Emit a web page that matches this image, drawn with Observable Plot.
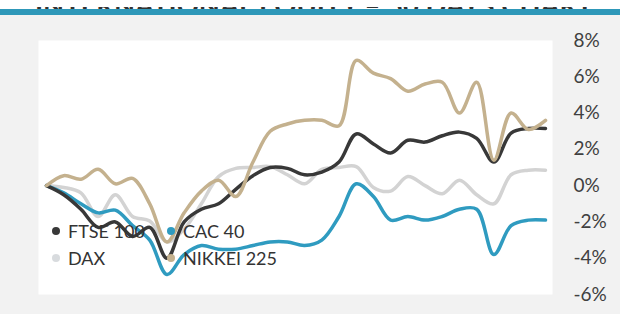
<!DOCTYPE html>
<html>
<head>
<meta charset="utf-8">
<script src="https://cdn.jsdelivr.net/npm/d3@7"></script>
<script src="https://cdn.jsdelivr.net/npm/@observablehq/plot@0.6"></script>
<style>
  html, body { margin: 0; padding: 0; }
  body { width: 620px; height: 314px; overflow: hidden; background: #f2f2f2; font-family: Lato, "Open Sans", sans-serif; }
  #head { height: 9px; background: #fff; overflow: hidden; }
  #bar { height: 6px; background: #2e98b9; border-bottom: 0; }
  #chart { position: relative; width: 620px; height: 299px; }
  #legend { position: absolute; left: 0; top: 0; font-size: 18px; color: #333; }
  .item { position: absolute; display: flex; align-items: center; white-space: nowrap; line-height: 1; }
  .dot { width: 8px; height: 8px; border-radius: 50%; margin-right: 8px; }
</style>
</head>
<body>
<div id="head">
  <svg width="620" height="9"><text x="35" y="7.5" textLength="558" lengthAdjust="spacingAndGlyphs" font-family="Lato, sans-serif" font-weight="bold" font-size="26" fill="#333">INTERNATIONAL EQUITY – 30 DAYS CHART</text></svg>
</div>
<div id="bar"></div>
<div id="chart"><div id="legend"></div></div>
<script>
// ---- data ----
const seriesNames = ["FTSE 100", "CAC 40", "DAX", "NIKKEI 225"];
const seriesColors = ["#383838", "#2f9bc0", "#d3d3d3", "#c4b18e"];
const legendDotColors = ["#383838", "#2f9bc0", "#d8dbde", "#c4b18e"];
const ftse   = [0, -0.5, -1.3, -2.3, -2.0, -2.8, -2.3, -4.0, -2.0, -1.3, -1.0, -0.2, 0.55, 1.0, 0.95, 0.6, 0.75, 1.3, 2.85, 2.3, 1.8, 2.5, 2.4, 2.75, 2.95, 2.6, 1.3, 2.9, 3.15, 3.15];
const cac    = [0, -0.4, -1.0, -1.5, -1.35, -2.2, -3.0, -4.9, -3.8, -3.3, -3.5, -3.5, -3.3, -3.1, -3.1, -3.3, -3.0, -1.7, 0.1, -0.6, -1.9, -1.7, -1.9, -1.7, -1.3, -1.3, -3.8, -2.2, -1.9, -1.9];
const dax    = [0, -0.1, -0.4, -1.7, -0.5, -1.7, -1.95, -3.1, -2.4, -1.0, 0.5, 0.95, 1.0, 1.05, 0.6, 0.1, 0.9, 1.0, 1.05, -0.1, -0.3, 0.5, 0.0, -0.45, 0.3, -0.5, -1.0, 0.6, 0.85, 0.85];
const nikkei = [0, 0.55, 0.35, 0.9, 0.1, 0.4, -1.0, -3.1, -1.5, -0.3, 0.3, -0.6, 1.3, 3.0, 3.4, 3.6, 3.6, 3.3, 6.9, 6.2, 5.9, 5.2, 5.6, 5.7, 4.0, 5.7, 1.4, 4.0, 3.1, 3.6];
const yTicks = [-6, -4, -2, 0, 2, 4, 6, 8];

const seriesValues = [ftse, cac, dax, nikkei];
// draw order: DAX, CAC, FTSE, NIKKEI (last on top)
const drawOrder = [2, 1, 0, 3];
const rows = [];
for (const s of drawOrder) {
  seriesValues[s].forEach((v, i) => rows.push({series: seriesNames[s], day: i, value: v}));
}

const plot = Plot.plot({
  width: 620,
  height: 299,
  marginTop: 25,
  marginBottom: 20,
  marginLeft: 38,
  marginRight: 68,
  style: {background: "#f2f2f2", fontFamily: "Lato, sans-serif"},
  x: {domain: [0, 29], axis: null, insetLeft: 8, insetRight: 7},
  y: {domain: [-6, 8], label: null},
  color: {domain: seriesNames, range: seriesColors},
  marks: [
    Plot.frame({fill: "white", stroke: null}),
    Plot.axisY(yTicks, {anchor: "right", label: null, tickSize: 0, tickPadding: 21, textAnchor: "start",
      tickFormat: d => d + "%", fontSize: 19, fill: "#404040"}),
    Plot.line(rows, {x: "day", y: "value", z: "series", stroke: "series",
      strokeWidth: 3.5, curve: "catmull-rom", sort: null})
  ]
});
document.getElementById("chart").prepend(plot);

// legend (two columns, two rows)
const legend = document.getElementById("legend");
const legendPos = [[52, 216], [167, 216], [52, 243], [167, 243]];
seriesNames.forEach((name, i) => {
  const item = document.createElement("div");
  item.className = "item";
  item.style.left = legendPos[i][0] + "px";
  item.style.top = (legendPos[i][1] - 9) + "px";
  item.style.height = "18px";
  const dot = document.createElement("span");
  dot.className = "dot";
  dot.style.background = legendDotColors[i];
  const label = document.createElement("span");
  label.textContent = name;
  item.append(dot, label);
  legend.append(item);
});
</script>
</body>
</html>
